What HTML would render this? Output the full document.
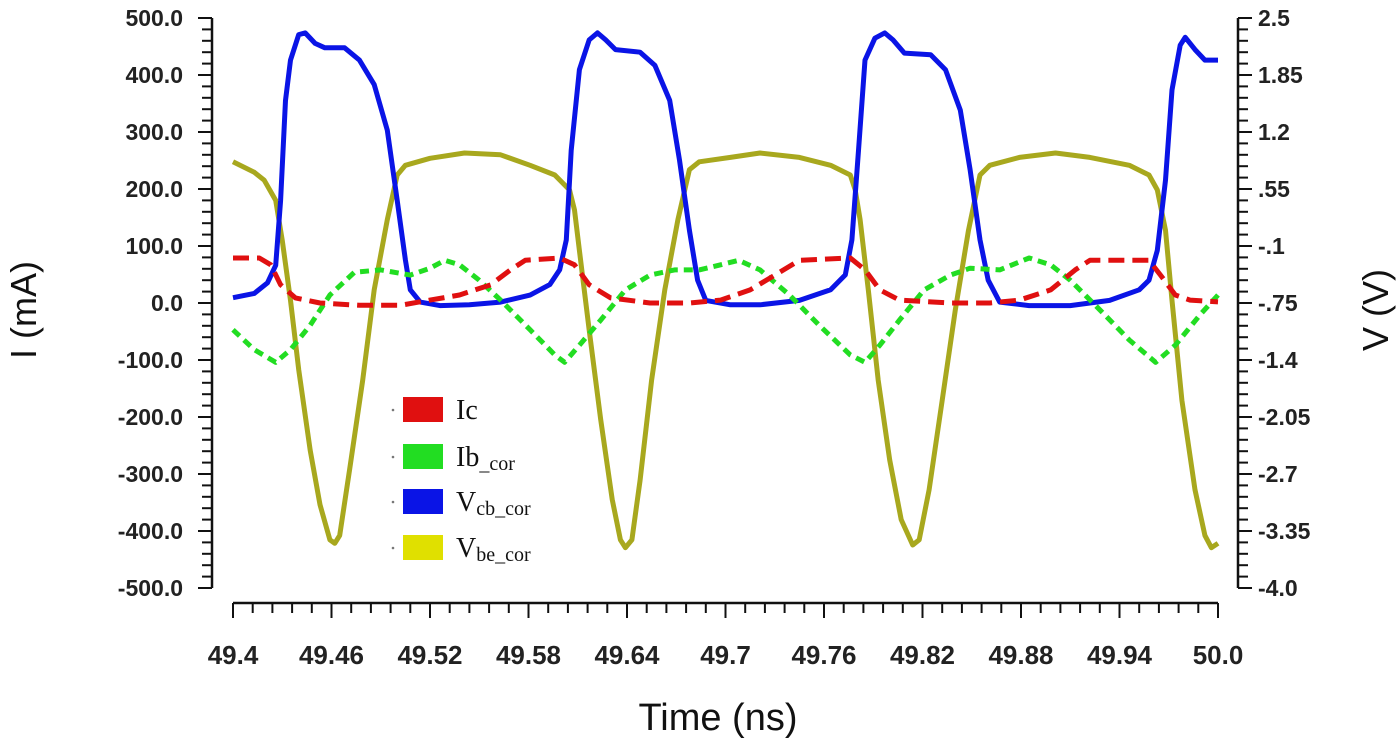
<!DOCTYPE html>
<html><head><meta charset="utf-8"><style>
html,body{margin:0;padding:0;background:#fff;}
svg{display:block;font-family:"Liberation Sans",Arial,sans-serif;}
</style></head><body>
<svg id="chart" width="1400" height="746" viewBox="0 0 1400 746" xmlns="http://www.w3.org/2000/svg">
<g id="axes"></g>
<g id="series"></g>
<g id="legend"></g>
<text transform="translate(36,310) rotate(-90)" text-anchor="middle" font-size="36" fill="#111">I (mA)</text>
<text transform="translate(1388,310) rotate(-90)" text-anchor="middle" font-size="36" fill="#111">V (V)</text>
<text x="718" y="730" text-anchor="middle" font-size="38" fill="#111">Time (ns)</text>
</svg>
<script>
const xTicks = ["49.4","49.46","49.52","49.58","49.64","49.7","49.76","49.82","49.88","49.94","50.0"];
const yLeftTicks = ["500.0","400.0","300.0","200.0","100.0","0.0","-100.0","-200.0","-300.0","-400.0","-500.0"];
const yRightTicks = ["2.5","1.85","1.2",".55","-.1","-.75","-1.4","-2.05","-2.7","-3.35","-4.0"];

const vcbT = [49.400,49.413,49.421,49.426,49.429,49.432,49.435,49.440,49.444,49.450,49.456,49.468,49.477,49.486,49.494,49.500,49.505,49.508,49.514,49.526,49.544,49.563,49.581,49.593,49.599,49.603,49.606,49.611,49.617,49.622,49.627,49.633,49.648,49.657,49.666,49.672,49.678,49.683,49.688,49.703,49.721,49.745,49.764,49.773,49.777,49.781,49.785,49.791,49.797,49.802,49.809,49.825,49.834,49.843,49.849,49.855,49.860,49.867,49.885,49.910,49.934,49.952,49.958,49.963,49.968,49.972,49.977,49.980,49.986,49.992,50.000];
const vcbV = [-0.69,-0.64,-0.52,-0.32,0.42,1.56,2.02,2.31,2.33,2.21,2.16,2.16,2.02,1.74,1.22,0.42,-0.26,-0.60,-0.74,-0.78,-0.77,-0.74,-0.66,-0.54,-0.37,-0.03,0.99,1.91,2.25,2.33,2.25,2.14,2.11,1.96,1.56,0.88,0.08,-0.49,-0.72,-0.77,-0.77,-0.72,-0.60,-0.43,-0.03,0.99,2.02,2.27,2.33,2.25,2.10,2.08,1.91,1.45,0.77,-0.03,-0.49,-0.74,-0.78,-0.78,-0.72,-0.60,-0.49,-0.15,0.65,1.68,2.19,2.28,2.14,2.02,2.02];

const vbeT = [49.400,49.413,49.419,49.426,49.430,49.435,49.440,49.447,49.453,49.459,49.462,49.465,49.471,49.479,49.486,49.494,49.500,49.505,49.520,49.541,49.563,49.581,49.596,49.605,49.608,49.611,49.617,49.624,49.631,49.636,49.639,49.643,49.648,49.655,49.663,49.671,49.678,49.684,49.703,49.721,49.745,49.764,49.776,49.779,49.782,49.787,49.793,49.800,49.807,49.814,49.818,49.824,49.832,49.840,49.848,49.855,49.861,49.879,49.901,49.922,49.946,49.958,49.963,49.968,49.972,49.978,49.986,49.992,49.996,50.000];
const vbeV = [0.86,0.74,0.65,0.42,-0.04,-0.72,-1.51,-2.43,-3.05,-3.45,-3.49,-3.40,-2.65,-1.63,-0.60,0.20,0.71,0.82,0.90,0.96,0.94,0.82,0.71,0.54,0.31,-0.15,-1.06,-2.08,-2.99,-3.45,-3.54,-3.45,-2.77,-1.63,-0.60,0.20,0.77,0.86,0.91,0.96,0.91,0.82,0.71,0.54,0.20,-0.60,-1.63,-2.54,-3.22,-3.51,-3.45,-2.88,-1.86,-0.83,0.08,0.71,0.82,0.91,0.96,0.91,0.82,0.71,0.54,0.08,-0.72,-1.86,-2.88,-3.40,-3.54,-3.49];

const icT = [49.400,49.416,49.423,49.429,49.438,49.453,49.477,49.502,49.520,49.538,49.557,49.569,49.578,49.599,49.608,49.617,49.630,49.654,49.678,49.697,49.715,49.733,49.745,49.776,49.785,49.794,49.806,49.837,49.861,49.879,49.898,49.913,49.922,49.958,49.965,49.974,49.983,50.000];
const icI = [79,79,67,32,9,0,-4,-4,5,14,32,58,75,79,67,32,9,0,0,5,23,54,75,79,58,23,5,0,0,5,23,58,75,75,49,14,5,2];

const ibT = [49.400,49.413,49.426,49.435,49.447,49.459,49.474,49.490,49.508,49.520,49.529,49.538,49.550,49.563,49.581,49.596,49.602,49.611,49.624,49.639,49.654,49.669,49.684,49.697,49.708,49.721,49.739,49.757,49.776,49.785,49.794,49.806,49.821,49.837,49.849,49.867,49.885,49.898,49.910,49.928,49.946,49.962,49.974,49.989,50.000];
const ibI = [-47,-82,-104,-82,-39,14,54,58,49,61,75,67,40,5,-47,-91,-104,-74,-30,23,49,58,58,67,75,58,14,-39,-91,-104,-74,-30,23,49,61,58,79,67,40,-12,-65,-104,-74,-21,14];

const X0=233,X1=1218,YT=18,YB=588;
const xs = t => X0 + (t-49.4)/0.6*(X1-X0);
const yL = v => YT + (500-v)/1000*(YB-YT);
const yR = v => YT + (2.5-v)/6.5*(YB-YT);
const NS="http://www.w3.org/2000/svg";
function mk(tag, attrs, parent){const e=document.createElementNS(NS,tag);for(const k in attrs)e.setAttribute(k,attrs[k]);parent.appendChild(e);return e;}

const axes=document.getElementById('axes');
let la=mk('line',{x1:212,y1:YT,x2:212,y2:YB,stroke:'#111','stroke-width':2.5},axes);


for(let i=0;i<=50;i++){const y=YT+i*(YB-YT)/50;const maj=i%5==0;
 const tk=mk('line',{x1:maj?198:202,y1:y,x2:212,y2:y,stroke:'#111','stroke-width':2},axes);
 
 }
yLeftTicks.forEach((s,i)=>{const t=mk('text',{x:183,y:YT+i*(YB-YT)/10+8,'text-anchor':'end','font-size':23,'font-weight':'bold',fill:'#222'},axes);t.textContent=s;
 
 });
let ra=mk('line',{x1:1238,y1:YT,x2:1238,y2:YB,stroke:'#111','stroke-width':2.5},axes);


for(let i=0;i<=50;i++){const y=YT+i*(YB-YT)/50;const maj=i%5==0;
 const tk=mk('line',{x1:1238,y1:y,x2:maj?1252:1248,y2:y,stroke:'#111','stroke-width':2},axes);
 
 }
yRightTicks.forEach((s,i)=>{const t=mk('text',{x:1258,y:YT+i*(YB-YT)/10+8,'text-anchor':'start','font-size':23,'font-weight':'bold',fill:'#222'},axes);t.textContent=s;
 
 });
let xa=mk('line',{x1:X0,y1:603,x2:X1,y2:603,stroke:'#111','stroke-width':2.5},axes);


for(let i=0;i<=50;i++){const x=X0+i*(X1-X0)/50;const maj=i%5==0;
 const tk=mk('line',{x1:x,y1:603,x2:x,y2:maj?618:613,stroke:'#111','stroke-width':2},axes);
 
 }
xTicks.forEach((s,i)=>{const t=mk('text',{x:X0+i*(X1-X0)/10,y:664,'text-anchor':'middle','font-size':26,'font-weight':'bold',fill:'#222'},axes);t.textContent=s;
 
 });

const ser=document.getElementById('series');
function line(T,V,ysc,color,dash,name){
 const d=T.map((t,i)=>(i?'L':'M')+xs(t).toFixed(1)+','+ysc(V[i]).toFixed(1)).join('');
 const p=mk('path',{d:d,fill:'none',stroke:color,'stroke-width':5,'stroke-linejoin':'round'},ser);
 if(dash)p.setAttribute('stroke-dasharray',dash);
 
 
}
line(vbeT,vbeV,yR,'#a8a81e',null,'vbe-cor-line');
line(vcbT,vcbV,yR,'#0a14e6',null,'vcb-cor-line');
line(ibT,ibI,yL,'#22dd22','9,6','ib-cor-line');
line(icT,icI,yL,'#e01010','16,8','ic-line');

const lg=document.getElementById('legend');
const items=[['Ic','','#e01010','legend-ic'],['Ib','_cor','#22dd22','legend-ib-cor'],['V','cb_cor','#0a14e6','legend-vcb-cor'],['V','be_cor','#e0e000','legend-vbe-cor']];
const ly=[397,444,489,535];
items.forEach((it,i)=>{
 const g=mk('g',{},lg);
 
 
 mk('circle',{cx:393,cy:ly[i]+13,r:1.3,fill:'#777'},g);
 mk('rect',{x:403,y:ly[i],width:40,height:25,fill:it[2]},g);
 const t=mk('text',{x:456,y:ly[i]+22,'font-size':28,'font-family':'"Liberation Serif",serif',fill:'#111'},g);
 t.textContent=it[0];
 if(it[1]){const s=mk('tspan',{'font-size':20,dy:4},t);s.textContent=it[1];}
});
</script>
</body></html>
